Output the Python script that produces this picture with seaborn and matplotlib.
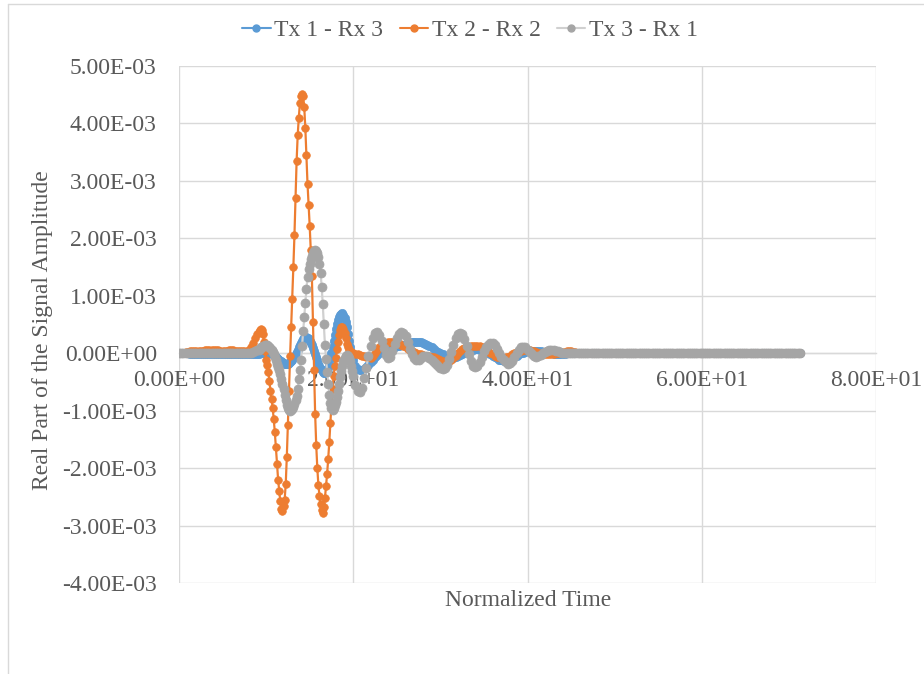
import numpy as np
import pandas as pd
import matplotlib
matplotlib.use("Agg")
import matplotlib.pyplot as plt
from matplotlib.lines import Line2D
from matplotlib.ticker import FuncFormatter
import seaborn as sns

# ---------------- data ----------------
series_names = ["Tx 1 - Rx 3", "Tx 2 - Rx 2", "Tx 3 - Rx 1"]

# normalized-time sample grid: coarse before/after the pulse, fine inside it
pre_grid = (0.0, 9.0, 0.25)      # t = 0 ... 8.75     (36 samples)
pulse_grid = (9.0, 20.0, 0.125)  # t = 9 ... 19.875   (88 samples)
post_grid = (20.0, 71.26, 0.25)  # t = 20 ... 71.25   (206 samples)

# amplitudes in units of 1e-3
# ---- Tx 1 - Rx 3 ----
tx1_rx3_pre = [
    0.00, 0.00, 0.00, 0.00, 0.00, -0.01, -0.01, -0.01,
    -0.01, -0.01, -0.01, -0.01, -0.01, -0.01, -0.01, -0.01,
    -0.01, -0.01, -0.02, -0.02, -0.02, -0.02, -0.02, -0.02,
    -0.02, -0.02, -0.02, -0.02, -0.02, -0.02, -0.02, -0.02,
    -0.02, -0.02, -0.02, -0.01,
]
tx1_rx3_pulse = [
    -0.01, -0.01, 0.00, 0.00, 0.01, 0.01, 0.02, 0.02,
    0.02, 0.02, 0.01, 0.01, 0.00, -0.01, -0.02, -0.03,
    -0.05, -0.06, -0.08, -0.10, -0.11, -0.13, -0.14, -0.16,
    -0.17, -0.18, -0.18, -0.18, -0.18, -0.17, -0.16, -0.14,
    -0.12, -0.09, -0.06, -0.02, 0.02, 0.06, 0.10, 0.14,
    0.18, 0.21, 0.24, 0.26, 0.28, 0.28, 0.27, 0.25,
    0.22, 0.18, 0.14, 0.09, 0.04, -0.01, -0.07, -0.12,
    -0.18, -0.23, -0.27, -0.30, -0.33, -0.34, -0.35, -0.33,
    -0.30, -0.25, -0.18, -0.10, 0.00, 0.11, 0.22, 0.32,
    0.42, 0.51, 0.58, 0.63, 0.67, 0.69, 0.70, 0.67,
    0.62, 0.54, 0.45, 0.34, 0.22, 0.11, 0.02, -0.05,
]
tx1_rx3_post = [
    -0.12, -0.22, -0.28, -0.30, -0.30, -0.28, -0.24, -0.20,
    -0.15, -0.11, -0.07, -0.03, 0.00, 0.03, 0.05, 0.07,
    0.08, 0.09, 0.10, 0.11, 0.12, 0.13, 0.14, 0.15,
    0.16, 0.17, 0.18, 0.19, 0.19, 0.20, 0.20, 0.19,
    0.18, 0.16, 0.14, 0.12, 0.10, 0.07, 0.04, 0.02,
    0.00, -0.02, -0.04, -0.06, -0.07, -0.08, -0.08, -0.07,
    -0.05, -0.03, -0.01, 0.01, 0.02, 0.04, 0.05, 0.06,
    0.07, 0.07, 0.06, 0.05, 0.04, 0.02, 0.00, -0.02,
    -0.05, -0.07, -0.09, -0.11, -0.12, -0.13, -0.13, -0.12,
    -0.10, -0.08, -0.06, -0.04, -0.02, 0.00, 0.01, 0.02,
    0.03, 0.04, 0.04, 0.04, 0.04, 0.03, 0.03, 0.02,
    0.02, 0.01, 0.00, 0.00, -0.01, -0.01, -0.01, -0.01,
    -0.01, -0.01, 0.00, 0.00, 0.00, 0.00, 0.00, 0.00,
    0.00,
]

# ---- Tx 2 - Rx 2 ----
tx2_rx2_pre = [
    0.00, 0.01, 0.01, 0.02, 0.02, 0.03, 0.03, 0.03,
    0.04, 0.04, 0.04, 0.04, 0.05, 0.05, 0.05, 0.05,
    0.05, 0.05, 0.05, 0.04, 0.04, 0.04, 0.04, 0.05,
    0.05, 0.05, 0.04, 0.04, 0.03, 0.03, 0.03, 0.04,
    0.06, 0.10, 0.17, 0.26,
]
tx2_rx2_pulse = [
    0.34, 0.37, 0.40, 0.42, 0.41, 0.33, 0.20, 0.04,
    -0.12, -0.20, -0.32, -0.48, -0.66, -0.80, -0.95, -1.15,
    -1.38, -1.64, -1.92, -2.20, -2.40, -2.58, -2.72, -2.74,
    -2.66, -2.55, -2.28, -1.80, -1.25, -0.65, -0.05, 0.45,
    0.95, 1.50, 2.05, 2.70, 3.35, 3.80, 4.10, 4.35,
    4.48, 4.52, 4.47, 4.28, 3.92, 3.45, 2.95, 2.58,
    2.22, 1.80, 1.35, 0.55, -0.30, -1.05, -1.60, -2.00,
    -2.30, -2.48, -2.62, -2.73, -2.78, -2.68, -2.52, -2.32,
    -2.10, -1.84, -1.55, -1.22, -0.88, -0.62, -0.40, -0.22,
    -0.08, 0.07, 0.20, 0.31, 0.40, 0.45, 0.46, 0.43,
    0.36, 0.26, 0.16, 0.10, 0.06, 0.04, 0.02, 0.01,
]
tx2_rx2_post = [
    0.00, -0.01, -0.02, -0.03, -0.04, -0.05, -0.06, -0.07,
    -0.08, -0.05, 0.00, 0.05, 0.10, 0.13, 0.16, 0.18,
    0.19, 0.20, 0.20, 0.20, 0.19, 0.17, 0.15, 0.12,
    0.10, 0.07, 0.05, 0.03, 0.02, 0.00, -0.01, -0.02,
    -0.03, -0.04, -0.05, -0.05, -0.06, -0.07, -0.08, -0.10,
    -0.12, -0.14, -0.15, -0.15, -0.14, -0.11, -0.08, -0.04,
    0.00, 0.04, 0.07, 0.09, 0.10, 0.11, 0.12, 0.13,
    0.13, 0.13, 0.12, 0.10, 0.08, 0.06, 0.03, 0.00,
    -0.02, -0.04, -0.06, -0.07, -0.08, -0.08, -0.07, -0.06,
    -0.04, -0.02, 0.00, 0.02, 0.03, 0.04, 0.05, 0.05,
    0.05, 0.05, 0.04, 0.03, 0.02, 0.01, 0.00, -0.01,
    -0.02, -0.02, -0.02, -0.02, -0.01, 0.00, 0.01, 0.01,
    0.02, 0.02, 0.03, 0.03, 0.03, 0.02, 0.02, 0.01,
    0.01,
]

# ---- Tx 3 - Rx 1 ----
tx3_rx1_pre = [
    0.00, 0.00, 0.00, 0.00, 0.00, 0.00, 0.00, 0.00,
    0.00, 0.00, 0.00, 0.00, 0.00, 0.00, 0.00, 0.00,
    0.00, 0.00, 0.00, 0.00, 0.00, 0.00, 0.00, 0.00,
    0.00, 0.00, 0.00, 0.00, 0.00, 0.00, 0.01, 0.01,
    0.01, 0.01, 0.02, 0.03,
]
tx3_rx1_pulse = [
    0.05, 0.06, 0.08, 0.10, 0.11, 0.12, 0.13, 0.14,
    0.14, 0.14, 0.13, 0.11, 0.09, 0.06, 0.02, -0.02,
    -0.07, -0.12, -0.18, -0.24, -0.30, -0.37, -0.45, -0.53,
    -0.62, -0.72, -0.82, -0.90, -0.96, -0.99, -1.00, -0.99,
    -0.97, -0.93, -0.88, -0.82, -0.74, -0.62, -0.45, -0.30,
    -0.12, 0.12, 0.38, 0.63, 0.88, 1.12, 1.32, 1.46,
    1.56, 1.64, 1.70, 1.75, 1.78, 1.79, 1.78, 1.74,
    1.68, 1.56, 1.40, 1.16, 0.85, 0.50, 0.15, -0.10,
    -0.32, -0.53, -0.72, -0.86, -0.95, -0.98, -0.95, -0.91,
    -0.85, -0.76, -0.65, -0.53, -0.42, -0.31, -0.22, -0.14,
    -0.08, -0.05, -0.03, -0.04, -0.08, -0.14, -0.22, -0.31,
]
tx3_rx1_post = [
    -0.40, -0.56, -0.66, -0.68, -0.60, -0.44, -0.25, -0.05,
    0.12, 0.26, 0.35, 0.37, 0.32, 0.22, 0.09, -0.03,
    -0.09, -0.06, 0.04, 0.16, 0.27, 0.34, 0.37, 0.36,
    0.30, 0.20, 0.08, -0.02, -0.08, -0.11, -0.11, -0.08,
    -0.05, -0.04, -0.05, -0.08, -0.11, -0.15, -0.19, -0.23,
    -0.26, -0.27, -0.26, -0.20, -0.10, 0.02, 0.15, 0.27,
    0.34, 0.36, 0.34, 0.25, 0.12, -0.02, -0.14, -0.22,
    -0.24, -0.22, -0.15, -0.06, 0.03, 0.10, 0.15, 0.17,
    0.17, 0.14, 0.08, 0.01, -0.06, -0.12, -0.16, -0.18,
    -0.17, -0.13, -0.07, 0.00, 0.06, 0.10, 0.11, 0.10,
    0.06, 0.02, -0.02, -0.05, -0.06, -0.05, -0.03, 0.00,
    0.02, 0.04, 0.05, 0.05, 0.05, 0.04, 0.03, 0.02,
    0.01, 0.01, 0.00, 0.00, 0.00, 0.00, 0.00, 0.00,
    0.00,
]

# all three signals are flat at zero from t = 46.25 to 71.25 (101 samples)
flat_tail = [
    0, 0, 0, 0, 0, 0, 0, 0, 0, 0, 0, 0, 0, 0, 0, 0, 0, 0, 0, 0,
    0, 0, 0, 0, 0, 0, 0, 0, 0, 0, 0, 0, 0, 0, 0, 0, 0, 0, 0, 0,
    0, 0, 0, 0, 0, 0, 0, 0, 0, 0, 0, 0, 0, 0, 0, 0, 0, 0, 0, 0,
    0, 0, 0, 0, 0, 0, 0, 0, 0, 0, 0, 0, 0, 0, 0, 0, 0, 0, 0, 0,
    0, 0, 0, 0, 0, 0, 0, 0, 0, 0, 0, 0, 0, 0, 0, 0, 0, 0, 0, 0,
    0,
]

x_ticks = [0, 20, 40, 60, 80]
y_ticks = [-4e-3, -3e-3, -2e-3, -1e-3, 0.0, 1e-3, 2e-3, 3e-3, 4e-3, 5e-3]
x_label = "Normalized Time"
y_label = "Real Part of the Signal Amplitude"

# ---------------- style ----------------
sns.set_style("white")
plt.rcParams["font.family"] = ["Liberation Serif", "DejaVu Serif"]
text_color = "#595959"
grid_color = "#d9d9d9"
line_colors = ["#5b9bd5", "#ed7d31", "#d0d0d0"]
marker_colors = ["#5b9bd5", "#ed7d31", "#a5a5a5"]
fs = 17

time = np.round(np.concatenate([np.arange(*pre_grid), np.arange(*pulse_grid),
                                np.arange(*post_grid)]), 4)
values = [
    tx1_rx3_pre + tx1_rx3_pulse + tx1_rx3_post + flat_tail,
    tx2_rx2_pre + tx2_rx2_pulse + tx2_rx2_post + flat_tail,
    tx3_rx1_pre + tx3_rx1_pulse + tx3_rx1_post + flat_tail,
]
frames = []
for name, vals in zip(series_names, values):
    amp = np.array(vals, dtype=float) * 1e-3
    frames.append(pd.DataFrame({"time": time, "amp": amp, "series": name}))
df = pd.concat(frames, ignore_index=True)

W, H = 924, 674
fig = plt.figure(figsize=(W / 100, H / 100), dpi=100)
L, R, T, B = 179, 876, 66, 583
ax = fig.add_axes([L / W, 1 - B / H, (R - L) / W, (B - T) / H])

marker_sizes = [6.0, 5.5, 6.5]
for name, lc, mc, ms in zip(series_names, line_colors, marker_colors, marker_sizes):
    sub = df[df["series"] == name]
    sns.lineplot(data=sub, x="time", y="amp", ax=ax, color=lc, marker="o",
                 markersize=ms, markerfacecolor=mc, markeredgecolor=mc,
                 markeredgewidth=0.5, linewidth=1.6, sort=False,
                 estimator=None, legend=False, zorder=3)

ax.set_xlim(0, 80)
ax.set_ylim(-4e-3, 5e-3)
ax.set_xticks(x_ticks)
ax.set_yticks(y_ticks)
fmt = FuncFormatter(lambda v, p: "%.2E" % v)
ax.xaxis.set_major_formatter(fmt)
ax.yaxis.set_major_formatter(fmt)
ax.grid(True, color=grid_color, linewidth=1.0, zorder=0)
ax.set_axisbelow(True)
for s in ["top", "right", "left"]:
    ax.spines[s].set_visible(False)
ax.spines["bottom"].set_position(("data", 0))
ax.spines["bottom"].set_color(grid_color)
ax.spines["bottom"].set_linewidth(1.0)
ax.tick_params(axis="x", length=0, pad=12, labelsize=fs, labelcolor=text_color)
ax.tick_params(axis="y", length=0, pad=16, labelsize=fs, labelcolor=text_color)
ax.set_xlabel("")
ax.set_ylabel("")

fig.text(43 / W, 1 - 330 / H, y_label, rotation=90, ha="center", va="center",
         fontsize=fs, color=text_color)
fig.text(528 / W, 1 - 601 / H, x_label, ha="center", va="center",
         fontsize=fs, color=text_color)

handles = [Line2D([], [], color=lc, marker="o", markersize=5,
                  markerfacecolor=mc, markeredgecolor=mc, linewidth=1.5)
           for lc, mc in zip(line_colors, marker_colors)]
leg = fig.legend(handles, series_names, loc="center",
                 bbox_to_anchor=(470 / W, 1 - 30 / H), ncol=3, frameon=False,
                 handlelength=1.2, handletextpad=0.15, columnspacing=0.7,
                 fontsize=fs)
for t in leg.get_texts():
    t.set_color(text_color)

# chart-area border (cropped on right and bottom)
fig.add_artist(Line2D([8 / W, 8 / W], [0, 1 - 4 / H], color=grid_color,
                      linewidth=1.0, transform=fig.transFigure))
fig.add_artist(Line2D([8 / W, 1], [1 - 4 / H, 1 - 4 / H], color=grid_color,
                      linewidth=1.0, transform=fig.transFigure))

fig.savefig("out.png", dpi=100, facecolor="white")
